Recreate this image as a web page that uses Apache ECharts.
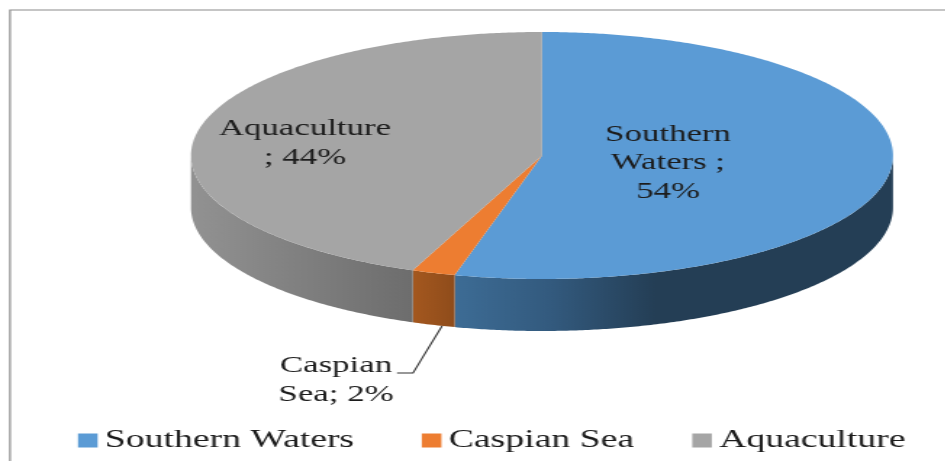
<!DOCTYPE html>
<html>
<head>
<meta charset="utf-8">
<style>
  html, body { margin: 0; padding: 0; background: #fff; overflow: hidden; }
  /* The drawing is laid out on a narrower canvas and widened, which gives the wide lettering. */
  #chart { width: 652.4px; height: 461px; transform: scale(1.45, 1); transform-origin: 0 0; }
</style>
<script src="https://cdn.jsdelivr.net/npm/echarts@6/dist/echarts.min.js"></script>
</head>
<body>
<div id="chart"></div>
<script>
// Share of the catch by source, in percent
const categories = ['Southern Waters', 'Caspian Sea', 'Aquaculture'];
const shares = [54, 2, 44];
const labelPrefixes = ['Southern\nWaters ;\n', 'Caspian\nSea; ', 'Aquaculture\n; '];
const topColors = ['#5b9bd5', '#ed7d31', '#a5a5a5'];
const wallStops = [
  [[0, '#3d6c95'], [0.22, '#335a7e'], [0.46, '#243e55'], [1, '#243e55']],
  [[0, '#a4581f'], [1, '#8f4c1b']],
  [[0, '#929292'], [1, '#6d6d6d']]
];

const STRETCH = 1.45;
const disc = { cx: 542 / STRETCH, cy: 155.5, rx: 351 / STRETCH, ry: 123.5, depth: 52 };
const labelCentres = [[668, 163], [336, 380], [305, 143]];
const leader = [[442, 326], [413, 373], [397, 373]];

const total = shares.reduce((a, b) => a + b, 0);

function rimPoint(deg, dy) {
  const t = deg * Math.PI / 180;
  return [disc.cx + disc.rx * Math.sin(t), disc.cy - disc.ry * Math.cos(t) + dy];
}

function arcPoints(from, to, dy) {
  const pts = [];
  const steps = Math.max(2, Math.ceil((to - from) * 2));
  for (let i = 0; i <= steps; i++) pts.push(rimPoint(from + (to - from) * i / steps, dy));
  return pts;
}

function sliceRenderer(index) {
  const startShare = shares.slice(0, index).reduce((a, b) => a + b, 0);
  return function (params, api) {
    const from = startShare / total * 360;
    const to = from + api.value(0) / total * 360;
    const children = [];

    // Side wall: only the front half of the rim (90 to 270 degrees) is visible
    const wallFrom = Math.max(from, 90);
    const wallTo = Math.min(to, 270);
    if (wallTo > wallFrom) {
      const upper = arcPoints(wallFrom, wallTo, 0);
      const lower = arcPoints(wallFrom, wallTo, disc.depth).reverse();
      const xs = upper.map(p => p[0]);
      children.push({
        type: 'polygon',
        shape: { points: upper.concat(lower) },
        style: {
          fill: new echarts.graphic.LinearGradient(
            Math.min.apply(null, xs), 0, Math.max.apply(null, xs), 0,
            wallStops[index].map(s => ({ offset: s[0], color: s[1] })), true
          )
        }
      });
    }

    // Top face
    children.push({
      type: 'polygon',
      shape: { points: [[disc.cx, disc.cy]].concat(arcPoints(from, to, 0)) },
      style: { fill: topColors[index] }
    });

    // Data label
    children.push({
      type: 'text',
      z2: 10,
      style: {
        x: labelCentres[index][0] / STRETCH,
        y: labelCentres[index][1],
        text: labelPrefixes[index] + api.value(0) + '%',
        fill: '#1c1c1c',
        font: '24px "Liberation Serif"',
        lineHeight: 28.5,
        align: 'center',
        verticalAlign: 'middle'
      }
    });
    return { type: 'group', children: children };
  };
}

const chart = echarts.init(document.getElementById('chart'), null, { renderer: 'canvas' });
chart.setOption({
  animation: false,
  backgroundColor: '#ffffff',
  legend: {
    data: categories,
    // A no-break space after the first entry widens the gap that follows it
    formatter: name => name === categories[0] ? name + '\u00a0' : name,
    left: 78 / STRETCH,
    top: 427.5,
    padding: 0,
    icon: 'rect',
    itemWidth: 13.5,
    itemHeight: 14,
    itemGap: 40.2,
    textStyle: {
      fontFamily: 'Liberation Serif',
      fontSize: 26,
      color: '#1c1c1c'
    },
    selectedMode: false
  },
  series: categories.map((name, i) => ({
    type: 'custom',
    name: name,
    coordinateSystem: 'none',
    silent: true,
    itemStyle: { color: topColors[i] },
    data: [[shares[i]]],
    renderItem: sliceRenderer(i)
  })),
  graphic: [
    {
      type: 'polyline',
      silent: true,
      shape: { points: [[10 / STRETCH, 461], [10 / STRETCH, 10], [946 / STRETCH, 10]] },
      style: { stroke: '#8c8c8c', lineWidth: 1.2, fill: null }
    },
    {
      type: 'polyline',
      silent: true,
      z: 20,
      shape: { points: leader.map(p => [p[0] / STRETCH, p[1]]) },
      style: { stroke: '#333333', lineWidth: 1.1, fill: null }
    }
  ]
});
</script>
</body>
</html>
